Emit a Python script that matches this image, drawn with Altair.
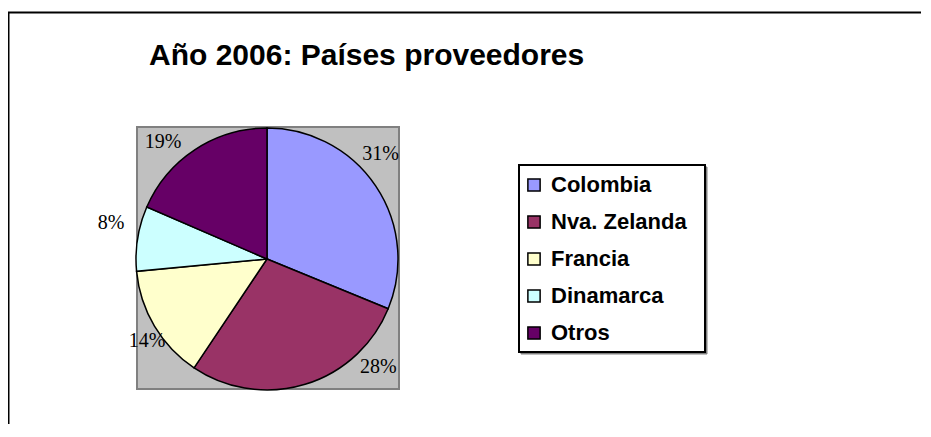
import math
import altair as alt
import pandas as pd

# ---------------- data ----------------
title_text = "Año 2006: Países proveedores"
countries = ["Colombia", "Nva. Zelanda", "Francia", "Dinamarca", "Otros"]
shares = [31.2, 28.2, 14.1, 8.0, 18.5]
pct_labels = ["31%", "28%", "14%", "8%", "19%"]
colors = ["#9999FF", "#993366", "#FFFFCC", "#CCFFFF", "#660066"]

# ---------------- layout (plot-area pixels) ----------------
W, H = 915, 416
CX, CY, R = 259, 251, 131          # pie centre and radius
LABEL_R = 155                      # distance of the percentage labels
LABEL_SIZE = 20
PLOT_BOX = (129, 119, 391, 381)    # grey plot area
LEGEND_BOX = (511, 157, 697, 344)
# small Excel-style placement tweaks for the outside labels: (degrees, px)
LABEL_NUDGE = {"14%": (-3.5, -10), "8%": (4.0, 5), "19%": (-8.3, 1.5), "28%": (0.8, 0)}


def label_angle(start, share, total, text):
    """Mid-angle of the slice, slid along the circle until the label fits
    inside the grey plot area (Excel-like 'outside end' placement)."""
    th = (start + share / 2) / total * 2 * math.pi
    hw = LABEL_SIZE * (0.25 * (len(text) - 1) + 0.4165)
    hh = 7.5
    right_lim = PLOT_BOX[2]
    bottom_lim = PLOT_BOX[3] - 16
    for _ in range(3000):
        x = CX + LABEL_R * math.sin(th)
        y = CY - LABEL_R * math.cos(th)
        over_r = x + hw - right_lim
        over_b = y + hh - bottom_lim
        if over_r <= 0 and over_b <= 0:
            break
        if over_r > 0:
            th -= 0.001 * math.copysign(1, math.cos(th))
        if over_b > 0:
            th -= 0.001 * math.copysign(1, math.sin(th))
    return th


total = sum(shares)
lab_theta, lab_r = [], []
acc = 0.0
for s, t in zip(shares, pct_labels):
    dth, dr = LABEL_NUDGE.get(t, (0.0, 0))
    lab_theta.append(label_angle(acc, s, total, t) + math.radians(dth))
    lab_r.append(LABEL_R + dr)
    acc += s

df = pd.DataFrame({
    "country": countries,
    "share": shares,
    "label": pct_labels,
    "order": list(range(len(countries))),
    "lab_theta": lab_theta,
    "lab_r": lab_r,
})

one = pd.DataFrame({"k": [0]})


def box(x1, y1, x2, y2, **kw):
    return alt.Chart(one).mark_rect(**kw).encode(
        x=alt.value(x1), x2=alt.value(x2), y=alt.value(y1), y2=alt.value(y2)
    )


def rule(x1, y1, x2, y2, **kw):
    return alt.Chart(one).mark_rule(**kw).encode(
        x=alt.value(x1), x2=alt.value(x2), y=alt.value(y1), y2=alt.value(y2)
    )


border_top = rule(0, 4.5, W - 2, 4.5, color="black", strokeWidth=2)
border_left = rule(0.5, 4.5, 0.5, H, color="black", strokeWidth=2)
plot_bg = box(*PLOT_BOX, fill="#C0C0C0", stroke="#808080", strokeWidth=2)
leg_shadow = box(LEGEND_BOX[0] + 2, LEGEND_BOX[1] + 2, LEGEND_BOX[2] + 2, LEGEND_BOX[3] + 2,
                 fill="#808080", stroke="#808080", strokeWidth=1)
leg_box = box(*LEGEND_BOX, fill="white", stroke="black", strokeWidth=2)

arcs = alt.Chart(df).mark_arc(radius=R, stroke="black", strokeWidth=1.5).encode(
    theta=alt.Theta("share:Q", stack=True),
    order=alt.Order("order:Q"),
    color=alt.Color(
        "country:N",
        scale=alt.Scale(domain=countries, range=colors),
        legend=alt.Legend(
            title=None,
            orient="none",
            legendX=LEGEND_BOX[0] + 4,
            legendY=LEGEND_BOX[1] + 9,
            padding=0,
            symbolType="square",
            symbolSize=150,
            symbolStrokeColor="black",
            symbolStrokeWidth=1.5,
            symbolOpacity=1,
            labelFont="Liberation Sans",
            labelFontSize=22,
            labelFontWeight="bold",
            labelColor="black",
            labelOffset=6,
            labelLimit=300,
            rowPadding=15,
        ),
    ),
    x=alt.value(CX),
    y=alt.value(CY),
)

labels = alt.Chart(df).mark_text(
    font="Liberation Serif", fontSize=LABEL_SIZE, color="black",
    align="center", baseline="middle",
).encode(
    theta=alt.Theta("lab_theta:Q",
                    scale=alt.Scale(domain=[0, 2 * math.pi], range=[0, 2 * math.pi]),
                    stack=False),
    radius=alt.Radius("lab_r:Q",
                      scale=alt.Scale(type="linear", zero=True, domain=[0, 200], range=[0, 200])),
    text="label:N",
    x=alt.value(CX),
    y=alt.value(CY),
)

title = alt.Chart(pd.DataFrame({"t": [title_text]})).mark_text(
    font="Liberation Sans", fontSize=30, fontWeight="bold", color="black",
    align="left", baseline="alphabetic",
).encode(text="t:N", x=alt.value(141), y=alt.value(57))

chart = alt.layer(
    border_top, border_left, plot_bg, arcs, labels, leg_shadow, leg_box, title
).resolve_scale(
    theta="independent", radius="independent"
).properties(
    width=W, height=H, padding=0, background="white",
    autosize=alt.AutoSizeParams(type="none"),
).configure_view(stroke="transparent")

chart.save("out.html", embed_options={"renderer": "svg", "actions": False})
